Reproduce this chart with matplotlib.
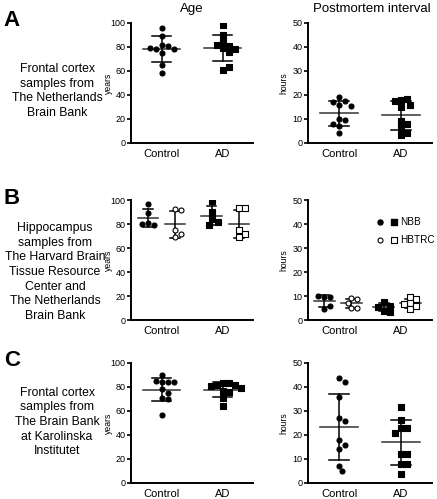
import numpy as np
import matplotlib
matplotlib.use("Agg")
import matplotlib.pyplot as plt
from matplotlib.legend_handler import HandlerTuple

plt.rcParams['font.family'] = ['Liberation Sans', 'DejaVu Sans']

# data
groups = ["Control", "AD"]

# panel A - Netherlands Brain Bank, frontal cortex
a_age_ctrl = [96, 89, 82, 81, 78, 78, 79, 75, 65, 58]
a_age_ad = [98, 90, 84, 81, 82, 79, 78, 76, 61, 63]
a_pmi_ctrl = [19, 17.5, 17, 16, 15.5, 10, 9.5, 8, 7, 4]
a_pmi_ad = [17.9, 18.2, 17.5, 15.8, 14.9, 9.3, 7.9, 6.1, 4.0, 3.3]

# panel B - hippocampus, NBB (filled) and HBTRC (open)
b_age_ctrl_nbb = [97, 89, 81, 79, 80]
b_age_ctrl_hb = [92.3, 91.7, 74.6, 71.8, 68.8]
b_age_ad_nbb = [99.4, 90.3, 84, 82, 79.3]
b_age_ad_hb = [93, 93, 74.6, 71.8, 69]
b_pmi_ctrl_nbb = [9.7, 9.7, 9.9, 4.4, 5.8]
b_pmi_ctrl_hb = [9.2, 8.6, 7.0, 4.8, 5.0]
b_pmi_ad_nbb = [7.5, 6.0, 5.5, 3.8, 3.5]
b_pmi_ad_hb = [9.7, 8.6, 6.9, 6.5, 4.4, 5.8]

# panel C - Karolinska, frontal cortex
c_age_ctrl = [90, 84, 84, 85, 84, 78, 75, 71, 70, 57]
c_age_ad = [83, 83, 82, 82, 81, 79, 77, 76, 71, 64]
c_pmi_ctrl = [43.9, 41.9, 35.9, 26.9, 26, 18, 15.9, 14.1, 7.2, 4.8]
c_pmi_ad = [31.8, 26.2, 23.1, 23.1, 21, 12, 12, 8, 8, 3.9]

panel_text = {
    "A": "Frontal cortex\nsamples from\nThe Netherlands\nBrain Bank",
    "B": "Hippocampus\nsamples from\nThe Harvard Brain\nTissue Resource\nCenter and\nThe Netherlands\nBrain Bank",
    "C": "Frontal cortex\nsamples from\nThe Brain Bank\nat Karolinska\nInstitutet",
}

W, H = 437, 499
fig = plt.figure(figsize=(W / 100, H / 100), dpi=100)


def px_axes(x0, y_top, w, h):
    return fig.add_axes([x0 / W, 1 - (y_top + h) / H, w / W, h / H])


def swarm(ax, x, vals, gap=6.0):
    # simple beeswarm in pixel space
    tr = ax.transData
    placed = []
    xs = []
    px_per_x = tr.transform((1, 0))[0] - tr.transform((0, 0))[0]
    for v in vals:
        py = tr.transform((x, v))[1]
        k = 0
        while True:
            cands = [0] if k == 0 else [k, -k]
            ok = None
            for c in cands:
                px = c * gap * 0.5
                if all((px - qx) ** 2 + (py - qy) ** 2 >= gap ** 2 for qx, qy in placed):
                    ok = px
                    break
            if ok is not None:
                placed.append((ok, py))
                xs.append(x + ok / px_per_x)
                break
            k += 1
    return xs


def group(ax, x, vals, marker="o", filled=True, mean_w=0.3, cap_w=0.16, mean_col="#333333"):
    vals = np.array(vals, dtype=float)
    m = vals.mean()
    sd = vals.std(ddof=1)
    xs = swarm(ax, x, vals)
    ax.scatter(xs, vals, s=13, marker=marker,
               facecolor="black" if filled else "white",
               edgecolor="black", linewidth=0.8, zorder=3)
    ax.plot([x - mean_w, x + mean_w], [m, m], color=mean_col, lw=1.1, zorder=2)
    ax.plot([x, x], [m - sd, m + sd], color="black", lw=1.1, zorder=2)
    for yy in (m - sd, m + sd):
        ax.plot([x - cap_w, x + cap_w], [yy, yy], color="black", lw=1.1, zorder=2)


def style(ax, ymax, step, ylabel):
    ax.set_xlim(-0.5, 1.5)
    ax.set_ylim(0, ymax)
    ax.set_yticks(np.arange(0, ymax + 1, step))
    ax.set_xticks([0, 1])
    ax.set_xticklabels(groups, fontsize=8)
    for s in ("top", "right"):
        ax.spines[s].set_visible(False)
    for s in ("left", "bottom"):
        ax.spines[s].set_linewidth(1.4)
    ax.tick_params(axis="y", labelsize=6.5, length=3, width=1.2, pad=1)
    ax.tick_params(axis="x", length=0, pad=4)
    ax.set_ylabel(ylabel, fontsize=6.2)


rows = [("A", 23), ("B", 200), ("C", 363)]
axes = {}
for name, top in rows:
    axl = px_axes(131, top, 122, 120)
    axr = px_axes(308, top, 124, 120)
    style(axl, 100, 20, "years")
    style(axr, 50, 10, "hours")
    axl.yaxis.set_label_coords(-0.15, 0.5)
    axr.yaxis.set_label_coords(-0.155, 0.5)
    axes[name] = (axl, axr)
    fig.text(12 / W, 1 - (top - 2) / H, name, fontsize=16, fontweight="bold",
             ha="center", va="center")

# panel A
axl, axr = axes["A"]
group(axl, 0, a_age_ctrl, "o")
group(axl, 1, a_age_ad, "s")
group(axr, 0, a_pmi_ctrl, "o")
group(axr, 1, a_pmi_ad, "s")

# panel B
axl, axr = axes["B"]
bw = dict(mean_w=0.17, cap_w=0.08)
group(axl, -0.22, b_age_ctrl_nbb, "o", True, **bw)
group(axl, 0.22, b_age_ctrl_hb, "o", False, **bw)
group(axl, 0.82, b_age_ad_nbb, "s", True, **bw)
group(axl, 1.27, b_age_ad_hb, "s", False, **bw)
group(axr, -0.24, b_pmi_ctrl_nbb, "o", True, **bw)
group(axr, 0.2, b_pmi_ctrl_hb, "o", False, **bw)
group(axr, 0.72, b_pmi_ad_nbb, "s", True, **bw)
group(axr, 1.15, b_pmi_ad_hb, "s", False, **bw)

fc = axr.scatter([], [], s=13, marker="o", facecolor="black", edgecolor="black")
fs = axr.scatter([], [], s=13, marker="s", facecolor="black", edgecolor="black")
oc = axr.scatter([], [], s=13, marker="o", facecolor="white", edgecolor="black", linewidth=0.8)
osq = axr.scatter([], [], s=13, marker="s", facecolor="white", edgecolor="black", linewidth=0.8)
axr.legend([(fc, fs), (oc, osq)], ["NBB", "HBTRC"],
           handler_map={tuple: HandlerTuple(ndivide=None, pad=0.9)},
           loc="upper left", bbox_to_anchor=(0.56, 0.86), frameon=False,
           fontsize=7.2, handlelength=1.9, handletextpad=0.4, labelspacing=0.8,
           borderpad=0, borderaxespad=0)

# panel C
axl, axr = axes["C"]
group(axl, 0, c_age_ctrl, "o")
group(axl, 1, c_age_ad, "s")
group(axr, 0, c_pmi_ctrl, "o")
group(axr, 1, c_pmi_ad, "s")

# titles and side labels
fig.text(192 / W, 1 - 9 / H, "Age", fontsize=9.5, ha="center", va="center")
fig.text(372 / W, 1 - 9 / H, "Postmortem interval", fontsize=9.5, ha="center", va="center")
fig.text(57 / W, 1 - 91 / H, panel_text["A"], fontsize=8.8, ha="center", va="center", linespacing=1.3)
fig.text(55 / W, 1 - 272 / H, panel_text["B"], fontsize=8.8, ha="center", va="center", linespacing=1.3)
fig.text(57 / W, 1 - 422 / H, panel_text["C"], fontsize=8.8, ha="center", va="center", linespacing=1.3)

fig.savefig("out.png", dpi=100)
